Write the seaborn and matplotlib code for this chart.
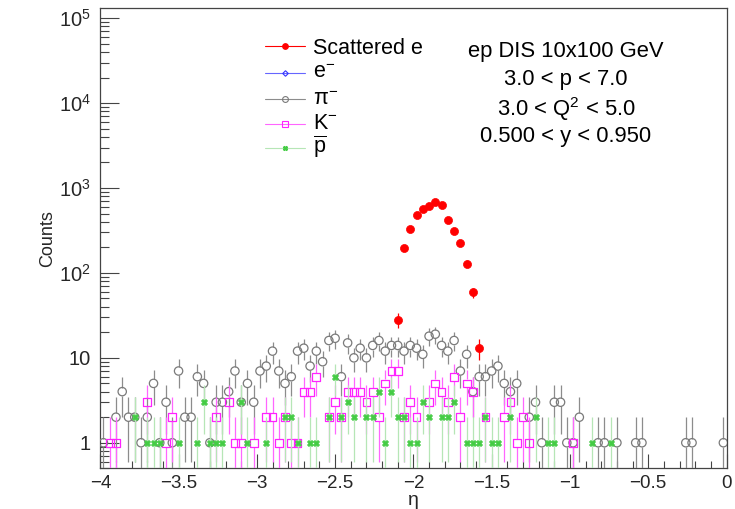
import numpy as np
import pandas as pd
import matplotlib
matplotlib.use("Agg")
import matplotlib.pyplot as plt
import seaborn as sns
from matplotlib.ticker import FixedLocator, MultipleLocator, LogLocator, NullFormatter

sns.set_theme(style="white")
plt.rcParams["font.family"] = ["Liberation Sans", "DejaVu Sans"]
plt.rcParams["mathtext.fontset"] = "custom"
plt.rcParams["mathtext.rm"] = "Liberation Sans"
plt.rcParams["mathtext.it"] = "Liberation Sans:italic"
plt.rcParams["mathtext.bf"] = "Liberation Sans:bold"

# Histogram binning in pseudorapidity
eta_min, eta_max, n_bins = -4.0, 0.0, 100

# Counts per eta bin (100 bins from -4 to 0)
scattered_e = [0] * 47 + [28, 197, 330, 485, 571, 608, 684, 624, 416, 309,
                          225, 129, 59, 13] + [0] * 39
electron = [0] * 100
pion = [1, 0, 2, 4, 2, 2, 1, 2, 5, 1,
        3, 1, 7, 2, 2, 6, 5, 1, 3, 3,
        4, 7, 3, 5, 3, 7, 8, 12, 7, 5,
        6, 12, 13, 8, 12, 9, 16, 17, 6, 15,
        10, 13, 10, 14, 16, 12, 14, 14, 12, 14,
        13, 11, 18, 19, 14, 12, 16, 7, 11, 4,
        6, 6, 7, 8, 5, 4, 5, 0, 2, 3,
        1, 0, 3, 3, 1, 1, 2, 0, 0, 1,
        1, 0, 1, 0, 0, 1, 1, 0, 0, 0,
        0, 0, 0, 1, 1, 0, 0, 0, 0, 1]
kaon = [0, 1, 1, 0, 0, 0, 0, 3, 0, 0,
        1, 2, 0, 0, 0, 0, 0, 0, 2, 0,
        3, 1, 1, 0, 1, 0, 2, 2, 1, 2,
        1, 1, 4, 4, 6, 0, 2, 3, 2, 4,
        4, 4, 3, 4, 2, 5, 7, 7, 2, 3,
        2, 0, 3, 5, 4, 3, 6, 2, 5, 4,
        0, 2, 0, 0, 2, 3, 1, 2, 1, 0,
        0, 0, 0, 0, 0, 1, 0, 0, 0, 0,
        0, 0, 0, 0, 0, 0, 0, 0, 0, 0,
        0, 0, 0, 0, 0, 0, 0, 0, 0, 0]
antiproton = [0, 0, 0, 0, 0, 2, 0, 1, 1, 1,
              0, 0, 1, 0, 0, 1, 3, 1, 1, 1,
              0, 0, 3, 1, 0, 0, 1, 0, 0, 2,
              2, 1, 0, 1, 1, 0, 2, 6, 2, 3,
              2, 0, 2, 2, 4, 1, 4, 2, 2, 1,
              1, 3, 2, 0, 2, 2, 3, 0, 1, 1,
              1, 2, 1, 1, 0, 2, 0, 0, 0, 2,
              0, 1, 1, 0, 0, 0, 0, 0, 1, 0,
              0, 1, 0, 0, 0, 0, 0, 0, 0, 0,
              0, 0, 0, 0, 0, 0, 0, 0, 0, 0]

legend_labels = ["Scattered e", "e$^{-}$", "π$^{-}$", "K$^{-}$", r"$\overline{\mathrm{p}}$"]
info_lines = ["ep DIS 10x100 GeV", "3.0 < p < 7.0", "3.0 < Q$^{2}$ < 5.0", "0.500 < y < 0.950"]
x_ticks = [-4, -3.5, -3, -2.5, -2, -1.5, -1, -0.5, 0]
x_ticklabels = ["−4", "−3.5", "−3", "−2.5", "−2", "−1.5", "−1", "−0.5", "0"]
y_ticks = [1, 10, 100, 1e3, 1e4, 1e5]
y_ticklabels = ["1", "10", "10$^{2}$", "10$^{3}$", "10$^{4}$", "10$^{5}$"]

edges = np.linspace(eta_min, eta_max, n_bins + 1)
centers = 0.5 * (edges[:-1] + edges[1:])

W, H = 735, 509
fig = plt.figure(figsize=(W / 100, H / 100), dpi=100)
ax = fig.add_axes([100.3 / W, 1 - 468.3 / H, 626.2 / W, 460.3 / H])
ax.set_xlim(eta_min, eta_max)
ax.set_yscale("log")
ax.set_ylim(0.5, 1.32e5)

# species: counts, colour, marker, filled, marker size (pt), error-bar colour, marker radius (px)
species = [
    (scattered_e, "#ff0000", "o", True, 5.8, "#ff0000", 2.8),
    (electron, "#3333ff", "D", False, 4.0, "#6666ff", 3.0),
    (pion, "#7a7a7a", "o", False, 6.0, "#8c8c8c", 4.1),
    (kaon, "#ff22ff", "s", False, 5.6, "#ff66ff", 4.0),
    (antiproton, "#44cc44", "X", True, 4.4, "#b6e6b6", 2.8),
]

fig.canvas.draw()
to_px = ax.transData
to_data = ax.transData.inverted()

for z, (counts, col, mk, filled, ms, ecol, rad) in enumerate(species):
    df = pd.DataFrame({"eta": centers, "counts": counts})
    df = df[df["counts"] > 0]
    if df.empty:
        continue
    n = df["counts"].to_numpy(dtype=float)
    x = df["eta"].to_numpy()
    err = np.sqrt(n)
    lo = np.clip(n - err, 1e-3, None)
    hi = n + err
    # leave a gap in the error bar where the marker sits
    pts = to_px.transform(np.column_stack([x, n]))
    below = to_data.transform(pts - [0, rad])[:, 1]
    above = to_data.transform(pts + [0, rad])[:, 1]
    if filled:
        ax.vlines(x, lo, hi, colors=ecol, linewidth=0.9, zorder=2 + z)
    else:
        ax.vlines(x, lo, below, colors=ecol, linewidth=0.9, zorder=2 + z)
        ax.vlines(x, above, hi, colors=ecol, linewidth=0.9, zorder=2 + z)
    sns.scatterplot(data=df, x="eta", y="counts", ax=ax, marker=mk,
                    s=ms ** 2, facecolor=col if filled else "none",
                    edgecolor=col, linewidth=0.9 if not filled else 0.5,
                    zorder=3 + z, legend=False)

# Legend drawn as line+marker samples next to labels
leg_line_y = [0.9175, 0.8597, 0.8017, 0.7474, 0.6953]
leg_text_y = [0.9000, 0.8473, 0.7893, 0.7365, 0.6851]
for (counts, col, mk, filled, ms, ecol, rad), label, ly, ty in zip(species, legend_labels, leg_line_y, leg_text_y):
    ax.plot([0.263, 0.327], [ly, ly], transform=ax.transAxes, color=ecol,
            linewidth=0.8, clip_on=False, zorder=10)
    ax.plot([0.295], [ly], transform=ax.transAxes, marker=mk, markersize=ms * 0.7,
            markerfacecolor=col if filled else "none", markeredgecolor=col,
            markeredgewidth=0.8, linestyle="none", clip_on=False, zorder=11)
    ax.text(0.340, ty, label, transform=ax.transAxes, fontsize=15.5,
            ha="left", va="baseline", color="black")

info_x = (566 - 100.3) / 626.2
info_base = [56.7, 84.5, 116.0, 141.7]
for line, yb in zip(info_lines, info_base):
    ax.text(info_x, (468.3 - yb) / 460.3, line, transform=ax.transAxes,
            fontsize=15.8, ha="center", va="baseline", color="black")

ax.set_xlabel("η", fontsize=14, labelpad=0)
ax.set_ylabel("Counts", fontsize=13, labelpad=2)

ax.xaxis.set_minor_locator(MultipleLocator(0.1))
ax.xaxis.set_major_locator(FixedLocator(x_ticks))
ax.set_xticklabels(x_ticklabels)
ax.yaxis.set_major_locator(FixedLocator(y_ticks))
ax.set_yticklabels(y_ticklabels)
ax.yaxis.set_minor_locator(LogLocator(base=10, subs=np.arange(2, 10)))
ax.yaxis.set_minor_formatter(NullFormatter())

ax.tick_params(axis="x", which="major", direction="in", length=9.9, width=0.8,
               color="#444444", labelsize=13.5, pad=5, bottom=True, top=False)
ax.tick_params(axis="x", which="minor", direction="in", length=5.0, width=0.8,
               color="#444444", bottom=True, top=False)
ax.tick_params(axis="y", which="major", direction="in", length=13.5, width=0.8,
               color="#444444", labelsize=14.5, pad=7, left=True, right=False)
ax.tick_params(axis="y", which="minor", direction="in", length=6.8, width=0.8,
               color="#444444", left=True, right=False)
for sp in ax.spines.values():
    sp.set_color("#444444")
    sp.set_linewidth(0.9)
ax.set_facecolor("white")

fig.savefig("out.png", dpi=100, facecolor="white")
